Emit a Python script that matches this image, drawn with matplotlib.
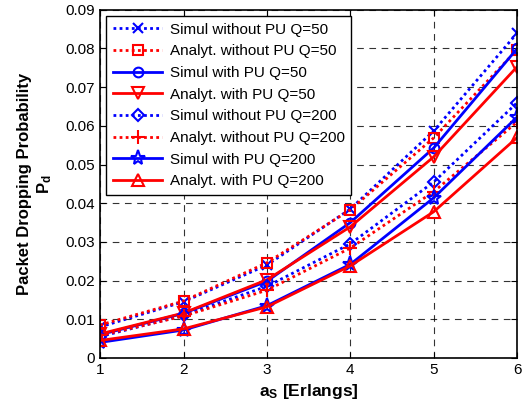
import matplotlib
matplotlib.use("Agg")
import matplotlib.pyplot as plt

plt.rcParams['font.family'] = ['Liberation Sans', 'DejaVu Sans']
plt.rcParams['mathtext.fontset'] = 'custom'
plt.rcParams['mathtext.rm'] = 'Liberation Sans'
plt.rcParams['mathtext.bf'] = 'Liberation Sans:bold'
plt.rcParams['mathtext.it'] = 'Liberation Sans:italic'

a_s = [1, 2, 3, 4, 5, 6]
sim_nopu_q50 = [0.0080, 0.0145, 0.0240, 0.0385, 0.0587, 0.0840]
ana_nopu_q50 = [0.0085, 0.0147, 0.0246, 0.0383, 0.0569, 0.0797]
sim_pu_q50 = [0.0060, 0.0115, 0.0198, 0.0350, 0.0543, 0.0800]
ana_pu_q50 = [0.0062, 0.0116, 0.0202, 0.0339, 0.0520, 0.0753]
sim_nopu_q200 = [0.0055, 0.0110, 0.0185, 0.0295, 0.0455, 0.0660]
ana_nopu_q200 = [0.0058, 0.0108, 0.0175, 0.0284, 0.0430, 0.0610]
sim_pu_q200 = [0.0040, 0.0072, 0.0135, 0.0242, 0.0414, 0.0623]
ana_pu_q200 = [0.0045, 0.0075, 0.0132, 0.0238, 0.0378, 0.0570]

labels = ['Simul without PU Q=50', 'Analyt. without PU Q=50', 'Simul with PU Q=50',
          'Analyt. with PU Q=50', 'Simul without PU Q=200', 'Analyt. without PU Q=200',
          'Simul with PU Q=200', 'Analyt. with PU Q=200']

series = [sim_nopu_q50, ana_nopu_q50, sim_pu_q50, ana_pu_q50,
          sim_nopu_q200, ana_nopu_q200, sim_pu_q200, ana_pu_q200]
dot = (0, (1, 1.2))
styles = [('blue', dot, 'x', 7), ('red', dot, 's', 7), ('blue', '-', 'o', 7), ('red', '-', 'v', 8),
          ('blue', dot, 'D', 6), ('red', dot, '+', 10), ('blue', '-', '*', 11), ('red', '-', '^', 8)]

fig = plt.figure(figsize=(5.24, 4.09), dpi=100)
ax = fig.add_axes([0.191, 0.125, 0.796, 0.851])

for y, lab, (c, ls, m, ms) in zip(series, labels, styles):
    ax.plot(a_s, y, color=c, linestyle=ls, marker=m, markersize=ms, linewidth=2.0,
            markerfacecolor='none', markeredgecolor=c, markeredgewidth=1.5, label=lab)

ax.set_xlim(1, 6)
ax.set_ylim(0, 0.09)
ax.set_xticks([1, 2, 3, 4, 5, 6])
ax.set_yticks([0, 0.01, 0.02, 0.03, 0.04, 0.05, 0.06, 0.07, 0.08, 0.09])
ax.set_yticklabels(['0', '0.01', '0.02', '0.03', '0.04', '0.05', '0.06', '0.07', '0.08', '0.09'])
ax.tick_params(direction='in', labelsize=11, length=4, top=True, right=True)
ax.grid(True, color='black', linestyle=(0, (6, 5)), linewidth=0.8, alpha=0.8)
for s in ax.spines.values():
    s.set_linewidth(1.2)

ax.set_xlabel(r'$\mathbf{a_S}$ [Erlangs]', fontsize=12.5, fontweight='bold', labelpad=4)
ax.set_ylabel('Packet Dropping Probability\n' + r'$\mathbf{P_d}$', fontsize=12, fontweight='bold',
              labelpad=8, linespacing=1.3)

leg = ax.legend(loc='upper left', fontsize=11, frameon=True, fancybox=False, framealpha=1,
                edgecolor='black', handlelength=3.2, borderpad=0.45, labelspacing=0.5,
                handletextpad=0.5, borderaxespad=0.4)
leg.get_frame().set_linewidth(1.0)

fig.savefig('out.png', dpi=100)
